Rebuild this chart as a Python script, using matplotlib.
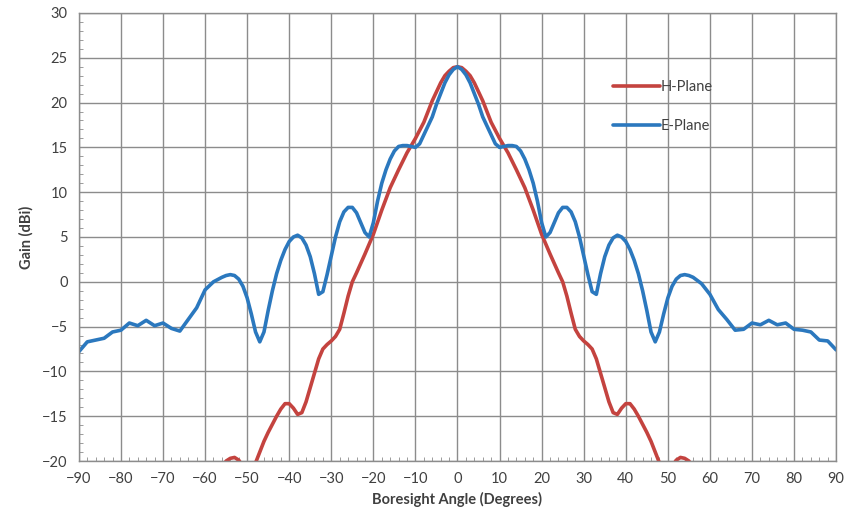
import numpy as np
import matplotlib
matplotlib.use('Agg')
import matplotlib.pyplot as plt
from matplotlib.ticker import MultipleLocator

plt.rcParams['font.family'] = ['Lato', 'DejaVu Sans']

# E-Plane (blue)
e_angle = [-90, -88, -86, -84, -82, -80, -78, -76, -74, -72, -70, -68, -66, -64, -62, -60,
           -58, -56, -55, -54, -53, -52, -51, -50, -49, -48, -47, -46, -45, -44, -43, -42,
           -41, -40, -39, -38, -37, -36, -35, -34, -33, -32, -31, -30, -29, -28, -27, -26,
           -25, -24, -23, -22, -21, -20, -19, -18, -17, -16, -15, -14, -13, -12, -11, -10,
           -9, -8, -7, -6, -5, -4, -3, -2, -1, 0,
           1, 2, 3, 4, 5, 6, 7, 8, 9, 10, 11, 12, 13, 14, 15, 16, 17, 18, 19, 20, 21, 22,
           23, 24, 25, 26, 27, 28, 29, 30, 31, 32, 33, 34, 35, 36, 37, 38, 39, 40, 41, 42,
           43, 44, 45, 46, 47, 48, 49, 50, 51, 52, 53, 54, 55, 56, 58, 60, 62, 64, 66, 68,
           70, 72, 74, 76, 78, 80, 82, 84, 86, 88, 90]
e_gain = [-7.8, -6.7, -6.5, -6.3, -5.6, -5.4, -4.6, -4.9, -4.3, -4.9, -4.6, -5.2, -5.5, -4.2,
          -2.9, -0.9, 0.0, 0.5, 0.7, 0.8, 0.7, 0.3, -0.5, -1.8, -3.6, -5.6, -6.7, -5.6, -3.2,
          -1.0, 0.9, 2.4, 3.6, 4.5, 5.0, 5.2, 4.9, 4.1, 2.8, 0.9, -1.4, -1.1, 0.8, 2.9,
          5.0, 6.7, 7.8, 8.3, 8.3, 7.7, 6.6, 5.5, 5.0, 6.6, 9.0, 11.0, 12.5, 13.7, 14.6,
          15.1, 15.2, 15.2, 15.1, 15.0, 15.4, 16.4, 17.4, 18.4, 19.8, 21.0, 22.2, 23.1, 23.7,
          24.0,
          23.7, 23.1, 22.2, 21.0, 19.8, 18.4, 17.4, 16.4, 15.4, 15.0, 15.1, 15.2, 15.2, 15.1,
          14.6, 13.7, 12.5, 11.0, 9.0, 6.6, 5.0, 5.5, 6.6, 7.7, 8.3, 8.3, 7.8, 6.7, 5.0,
          2.9, 0.8, -1.1, -1.4, 0.9, 2.8, 4.1, 4.9, 5.2, 5.0, 4.5, 3.6, 2.4, 0.9, -1.0,
          -3.2, -5.6, -6.7, -5.6, -3.6, -1.8, -0.5, 0.3, 0.7, 0.8, 0.7, 0.5, -0.2, -1.4,
          -3.1, -4.2, -5.4, -5.3, -4.6, -4.8, -4.3, -4.8, -4.6, -5.3, -5.4, -5.6, -6.5,
          -6.6, -7.6]

# H-Plane (red)
h_angle = [-60, -58, -56, -55, -54, -53, -52, -51, -50, -49, -48, -47, -46, -45, -44, -43,
           -42, -41, -40, -39, -38, -37, -36, -35, -34, -33, -32, -31, -30, -29, -28, -27,
           -26, -25, -24, -22, -20, -18, -16, -14, -12, -10, -8, -6, -4, -3, -2, -1, 0,
           1, 2, 3, 4, 6, 8, 10, 12, 14, 16, 18, 20, 22, 24, 25, 26, 27, 28, 29, 30, 31,
           32, 33, 34, 35, 36, 37, 38, 39, 40, 41, 42, 43, 44, 45, 46, 47, 48, 49, 50, 51,
           52, 53, 54, 55, 56, 58, 60]
h_gain = [-26.0, -23.0, -20.8, -20.0, -19.7, -19.6, -19.9, -20.6, -21.4, -21.0, -20.2, -19.0,
          -17.8, -16.8, -15.9, -15.0, -14.2, -13.6, -13.6, -14.1, -14.8, -14.6, -13.4, -11.8,
          -10.2, -8.6, -7.5, -7.0, -6.6, -6.1, -5.3, -3.5, -1.6, 0.0, 1.0, 3.1, 5.3, 8.0,
          10.5, 12.5, 14.4, 16.0, 17.8, 20.2, 22.2, 23.0, 23.5, 23.9, 24.0,
          23.9, 23.5, 23.0, 22.2, 20.2, 17.8, 16.0, 14.4, 12.5, 10.5, 8.0, 5.3, 3.1, 1.0,
          0.0, -1.6, -3.5, -5.3, -6.1, -6.6, -7.0, -7.5, -8.6, -10.2, -11.8, -13.4, -14.6,
          -14.8, -14.1, -13.6, -13.6, -14.2, -15.0, -15.9, -16.8, -17.8, -19.0, -20.2,
          -21.0, -21.4, -20.6, -19.9, -19.6, -19.7, -20.0, -20.8, -23.0, -26.0]

x_ticks = list(range(-90, 91, 10))
y_ticks = list(range(-20, 31, 5))

fig = plt.figure(figsize=(8.48, 5.29), dpi=100)
ax = fig.add_axes([0.093, 0.1285, 0.893, 0.847])

ax.plot(h_angle, h_gain, color='#C4433F', lw=2.6, solid_joinstyle='round',
        solid_capstyle='round', label='H-Plane')
ax.plot(e_angle, e_gain, color='#2B78BE', lw=2.6, solid_joinstyle='round',
        solid_capstyle='round', label='E-Plane')

ax.set_xlim(-90, 90)
ax.set_ylim(-20, 30)
ax.set_xticks(x_ticks)
ax.set_yticks(y_ticks)
ax.xaxis.set_minor_locator(MultipleLocator(2))
ax.yaxis.set_minor_locator(MultipleLocator(1))
ax.grid(True, which='major', color='#8C8C8C', lw=1.0)
ax.set_axisbelow(True)

for s in ax.spines.values():
    s.set_color('#8C8C8C')
    s.set_linewidth(1.0)

ax.tick_params(which='major', length=0, labelsize=10.5, labelcolor='#404040', pad=8)
ax.tick_params(which='minor', direction='in', length=3, color='#8C8C8C')
ax.tick_params(axis='x', which='minor', top=False)
ax.tick_params(axis='y', which='minor', right=False)

ax.set_xlabel('Boresight Angle (Degrees)', fontsize=10.5, fontweight='bold',
              color='#404040', labelpad=4)
ax.set_ylabel('Gain (dBi)', fontsize=10.5, fontweight='bold', color='#404040', labelpad=6)

leg = ax.legend(loc='upper left', bbox_to_anchor=(0.688, 0.88), frameon=False,
                handlelength=3.2, handletextpad=0.1, labelspacing=1.7, fontsize=10.5)
for t in leg.get_texts():
    t.set_color('#404040')

fig.savefig('out.png', dpi=100)
